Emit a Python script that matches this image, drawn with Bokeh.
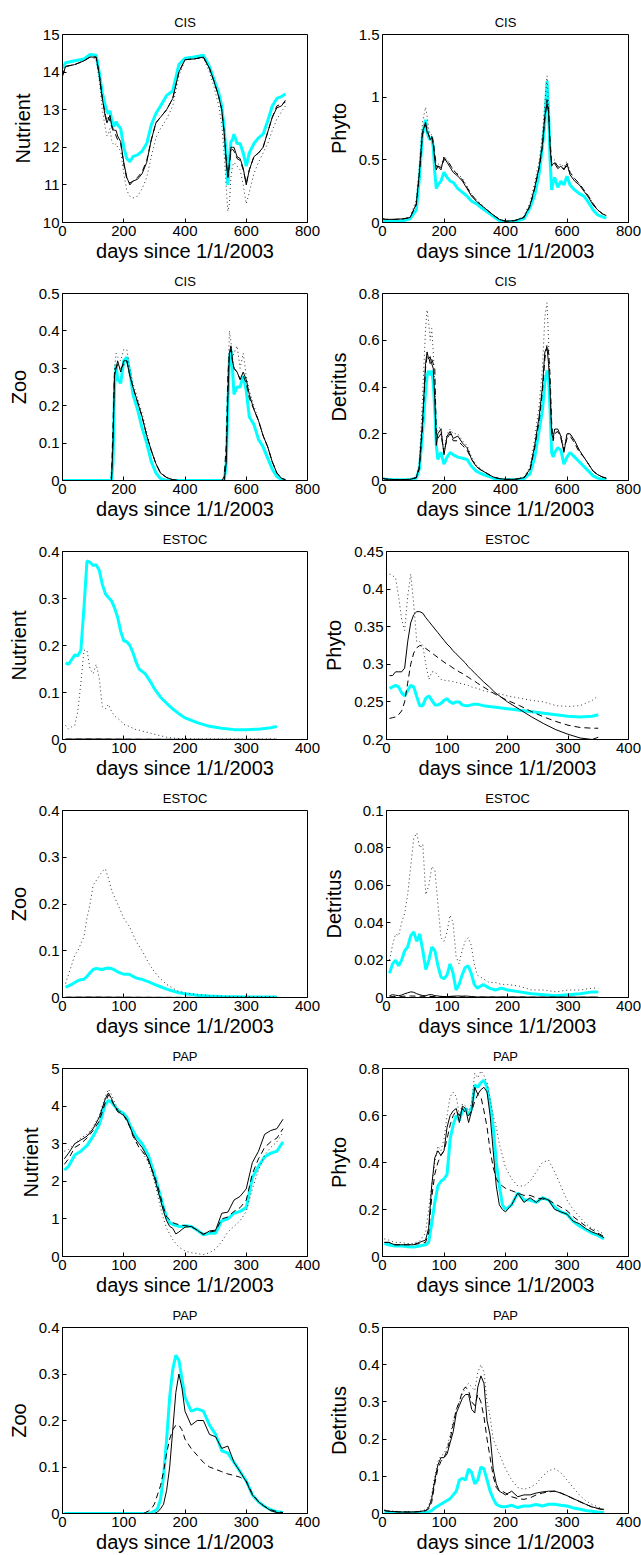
from bokeh.plotting import figure
from bokeh.layouts import column, row
from bokeh.models import FixedTicker, Range1d
from bokeh.embed import file_html
from bokeh.resources import INLINE

FONT = "Liberation Sans"

# ---------------- tick values ----------------
cis_xticks = [0, 200, 400, 600, 800]
site_xticks = [0, 100, 200, 300, 400]
cis_nut_yticks = [10, 11, 12, 13, 14, 15]
cis_phy_yticks = [0, 0.5, 1, 1.5]
cis_zoo_yticks = [0, 0.1, 0.2, 0.3, 0.4, 0.5]
cis_det_yticks = [0, 0.2, 0.4, 0.6, 0.8]
est_nut_yticks = [0, 0.1, 0.2, 0.3, 0.4]
est_phy_yticks = [0.2, 0.25, 0.3, 0.35, 0.4, 0.45]
est_zoo_yticks = [0, 0.1, 0.2, 0.3, 0.4]
est_det_yticks = [0, 0.02, 0.04, 0.06, 0.08, 0.1]
pap_nut_yticks = [0, 1, 2, 3, 4, 5]
pap_phy_yticks = [0, 0.2, 0.4, 0.6, 0.8]
pap_zoo_yticks = [0, 0.1, 0.2, 0.3, 0.4]
pap_det_yticks = [0, 0.1, 0.2, 0.3, 0.4, 0.5]

# ---------------- CIS (days since 1/1/2003) ----------------
cis_days = [0, 10, 40, 70, 90, 110, 120, 130, 140, 145, 150, 155, 160, 165, 170, 175, 180, 190, 200, 210,
            220, 230, 245, 260, 275, 290, 305, 320, 340, 360, 380, 400, 430, 460, 480, 495, 510, 520, 528, 535,
            540, 545, 550, 555, 560, 570, 580, 590, 600, 610, 625, 640, 655, 670, 685, 700, 715, 728]

cis_nut_cyan = [14.1, 14.25, 14.3, 14.35, 14.47, 14.45, 14.0, 13.45, 13.1, 12.95, 12.9, 12.97, 12.75, 12.55, 12.6,
                12.68, 12.6, 12.5, 12.0, 11.7, 11.62, 11.75, 11.8, 11.9, 12.1, 12.6, 12.9, 13.1, 13.38, 13.5,
                14.2, 14.37, 14.4, 14.45, 14.15, 13.8, 13.45, 13.1, 12.5, 11.75, 11.0, 11.7, 12.15, 12.2, 12.35,
                12.1, 12.1, 11.85, 11.5, 11.85, 12.1, 12.25, 12.35, 12.7, 13.1, 13.3, 13.35, 13.42]
cis_nut_solid = [13.9, 14.15, 14.2, 14.3, 14.4, 14.4, 13.95, 13.3, 12.8, 12.65, 12.75, 12.85, 12.6, 12.5, 12.45,
                 12.45, 12.3, 12.15, 11.6, 11.2, 11.0, 11.1, 11.15, 11.3, 11.6, 12.2, 12.65, 12.8, 13.0, 13.3,
                 14.0, 14.33, 14.35, 14.4, 14.1, 13.75, 13.35, 13.0, 12.4, 11.6, 11.2, 11.6, 12.0, 12.0, 12.0,
                 11.75, 11.7, 11.45, 11.0, 11.4, 11.75, 11.85, 12.0, 12.4, 12.8, 13.05, 13.1, 13.25]
cis_nut_dashed = [13.9, 14.15, 14.2, 14.3, 14.4, 14.4, 13.95, 13.3, 12.85, 12.7, 12.8, 12.7, 12.55, 12.45, 12.4,
                  12.3, 12.2, 12.1, 11.55, 11.15, 11.05, 11.1, 11.2, 11.35, 11.65, 12.2, 12.65, 12.8, 13.0, 13.3,
                  14.0, 14.33, 14.35, 14.4, 14.1, 13.75, 13.35, 13.0, 12.4, 11.6, 11.2, 11.5, 11.9, 11.95, 11.9,
                  11.7, 11.65, 11.4, 11.05, 11.4, 11.75, 11.85, 12.0, 12.4, 12.8, 13.1, 13.15, 13.2]
cis_nut_dotted = [13.9, 14.15, 14.2, 14.3, 14.4, 14.35, 13.8, 13.0, 12.5, 12.3, 12.35, 12.5, 12.2, 12.1, 12.05,
                  12.1, 12.0, 11.9, 11.3, 10.85, 10.7, 10.65, 10.7, 10.9, 11.2, 11.75, 12.25, 12.5, 12.75, 13.1,
                  13.9, 14.33, 14.35, 14.38, 14.0, 13.6, 13.1, 12.6, 11.8, 10.9, 10.3, 10.5, 11.2, 11.5, 11.6,
                  11.5, 11.4, 11.0, 10.5, 10.8, 11.3, 11.6, 11.85, 12.1, 12.45, 12.75, 12.95, 13.1]

cis_phy_cyan = [0.01, 0.01, 0.01, 0.015, 0.03, 0.1, 0.35, 0.7, 0.82, 0.72, 0.68, 0.66, 0.68, 0.6, 0.4,
                0.27, 0.3, 0.33, 0.4, 0.36, 0.33, 0.32, 0.27, 0.24, 0.21, 0.17, 0.15, 0.12, 0.085, 0.05,
                0.015, 0.005, 0.01, 0.03, 0.12, 0.22, 0.4, 0.6, 0.8, 1.13, 0.9, 0.5, 0.26, 0.32, 0.36,
                0.28, 0.33, 0.3, 0.37, 0.3, 0.26, 0.23, 0.21, 0.16, 0.1, 0.06, 0.045, 0.035]
cis_phy_solid = [0.03, 0.025, 0.025, 0.03, 0.04, 0.15, 0.4, 0.72, 0.8, 0.72, 0.7, 0.66, 0.68, 0.62, 0.5,
                 0.42, 0.45, 0.42, 0.52, 0.48, 0.44, 0.4, 0.37, 0.33, 0.27, 0.21, 0.17, 0.14, 0.1, 0.06,
                 0.025, 0.01, 0.015, 0.04, 0.14, 0.28, 0.45, 0.62, 0.85, 0.95, 0.88, 0.6, 0.45, 0.47, 0.47,
                 0.43, 0.45, 0.42, 0.47, 0.38, 0.33, 0.3, 0.25, 0.2, 0.14, 0.1, 0.07, 0.055]
cis_phy_dashed = [0.03, 0.025, 0.025, 0.03, 0.04, 0.14, 0.38, 0.7, 0.78, 0.75, 0.7, 0.67, 0.69, 0.65, 0.55,
                  0.45, 0.45, 0.44, 0.5, 0.5, 0.46, 0.42, 0.38, 0.34, 0.28, 0.22, 0.18, 0.14, 0.1, 0.06,
                  0.025, 0.01, 0.015, 0.04, 0.13, 0.27, 0.44, 0.6, 0.82, 0.98, 0.9, 0.65, 0.48, 0.47, 0.48,
                  0.45, 0.44, 0.43, 0.45, 0.4, 0.35, 0.31, 0.26, 0.21, 0.15, 0.1, 0.07, 0.055]
cis_phy_dotted = [0.03, 0.025, 0.025, 0.03, 0.045, 0.18, 0.45, 0.8, 0.92, 0.85, 0.75, 0.7, 0.7, 0.65, 0.52,
                  0.45, 0.47, 0.45, 0.53, 0.5, 0.46, 0.42, 0.39, 0.35, 0.29, 0.22, 0.18, 0.15, 0.1, 0.06,
                  0.025, 0.01, 0.015, 0.05, 0.16, 0.32, 0.5, 0.7, 0.95, 1.17, 0.95, 0.62, 0.47, 0.49, 0.5,
                  0.44, 0.47, 0.44, 0.49, 0.4, 0.35, 0.31, 0.26, 0.21, 0.15, 0.1, 0.07, 0.055]

cis_zoo_cyan = [0, 0, 0, 0, 0, 0, 0, 0, 0, 0, 0, 0, 0, 0.05, 0.25,
                0.31, 0.27, 0.26, 0.32, 0.33, 0.29, 0.23, 0.19, 0.14, 0.1, 0.05, 0.02, 0.005, 0.0, 0.0,
                0, 0, 0, 0, 0, 0, 0, 0, 0, 0.05, 0.2, 0.33, 0.35, 0.3, 0.23,
                0.25, 0.25, 0.28, 0.24, 0.17, 0.15, 0.11, 0.09, 0.06, 0.03, 0.01, 0.003, 0.0]
cis_zoo_solid = [0, 0, 0, 0, 0, 0, 0, 0, 0, 0, 0, 0, 0, 0.1, 0.28,
                 0.3, 0.32, 0.29, 0.32, 0.32, 0.28, 0.25, 0.21, 0.17, 0.12, 0.08, 0.045, 0.02, 0.008, 0.002,
                 0, 0, 0, 0, 0, 0, 0, 0, 0, 0.05, 0.22, 0.34, 0.36, 0.32, 0.3,
                 0.29, 0.27, 0.29, 0.27, 0.23, 0.19, 0.16, 0.12, 0.09, 0.05, 0.02, 0.006, 0.002]
cis_zoo_dashed = [0, 0, 0, 0, 0, 0, 0, 0, 0, 0, 0, 0, 0.01, 0.15, 0.3,
                  0.3, 0.31, 0.3, 0.31, 0.32, 0.28, 0.25, 0.21, 0.17, 0.12, 0.08, 0.045, 0.02, 0.008, 0.002,
                  0, 0, 0, 0, 0, 0, 0, 0, 0.01, 0.1, 0.28, 0.34, 0.35, 0.32, 0.3,
                  0.29, 0.27, 0.28, 0.26, 0.22, 0.19, 0.16, 0.12, 0.09, 0.05, 0.02, 0.006, 0.002]
cis_zoo_dotted = [0, 0, 0, 0, 0, 0, 0, 0, 0, 0, 0, 0, 0, 0.1, 0.3,
                  0.34, 0.33, 0.32, 0.35, 0.35, 0.3, 0.26, 0.22, 0.18, 0.13, 0.08, 0.045, 0.02, 0.008, 0.002,
                  0, 0, 0, 0, 0, 0, 0, 0, 0, 0.06, 0.25, 0.4, 0.37, 0.33, 0.34,
                  0.36, 0.3, 0.34, 0.28, 0.24, 0.2, 0.16, 0.12, 0.09, 0.05, 0.02, 0.006, 0.002]

cis_det_cyan = [0.008, 0.005, 0.003, 0.003, 0.004, 0.01, 0.05, 0.2, 0.38, 0.45, 0.47, 0.45, 0.47, 0.42, 0.3,
                0.15, 0.09, 0.12, 0.07, 0.1, 0.12, 0.11, 0.1, 0.095, 0.09, 0.06, 0.04, 0.03, 0.02, 0.01,
                0.005, 0.003, 0.003, 0.008, 0.03, 0.1, 0.22, 0.3, 0.42, 0.47, 0.44, 0.3, 0.12, 0.1, 0.12,
                0.14, 0.13, 0.07, 0.1, 0.12, 0.1, 0.08, 0.06, 0.04, 0.02, 0.01, 0.005, 0.004]
cis_det_solid = [0.01, 0.006, 0.004, 0.004, 0.005, 0.012, 0.06, 0.25, 0.5, 0.55, 0.52, 0.53, 0.5, 0.48, 0.35,
                 0.15, 0.2, 0.22, 0.11, 0.19, 0.21, 0.18, 0.19, 0.16, 0.14, 0.09, 0.06, 0.045, 0.03, 0.015,
                 0.008, 0.005, 0.005, 0.012, 0.05, 0.15, 0.28, 0.4, 0.55, 0.57, 0.5, 0.38, 0.2, 0.18, 0.22,
                 0.22, 0.19, 0.12, 0.2, 0.2, 0.17, 0.13, 0.1, 0.07, 0.04, 0.025, 0.015, 0.01]
cis_det_dashed = [0.01, 0.006, 0.004, 0.004, 0.005, 0.012, 0.05, 0.22, 0.48, 0.53, 0.53, 0.5, 0.52, 0.5, 0.48,
                  0.2, 0.18, 0.2, 0.12, 0.18, 0.2, 0.17, 0.17, 0.15, 0.13, 0.09, 0.06, 0.045, 0.03, 0.015,
                  0.008, 0.005, 0.005, 0.01, 0.045, 0.14, 0.26, 0.38, 0.52, 0.58, 0.55, 0.45, 0.25, 0.17, 0.2,
                  0.21, 0.18, 0.13, 0.18, 0.19, 0.16, 0.12, 0.1, 0.07, 0.04, 0.025, 0.015, 0.01]
cis_det_dotted = [0.01, 0.006, 0.004, 0.004, 0.005, 0.015, 0.08, 0.35, 0.65, 0.73, 0.68, 0.6, 0.65, 0.55, 0.4,
                  0.2, 0.22, 0.23, 0.12, 0.2, 0.22, 0.2, 0.2, 0.17, 0.15, 0.1, 0.065, 0.05, 0.03, 0.015,
                  0.008, 0.005, 0.005, 0.015, 0.06, 0.18, 0.33, 0.48, 0.7, 0.76, 0.6, 0.4, 0.22, 0.2, 0.22,
                  0.2, 0.2, 0.13, 0.2, 0.2, 0.17, 0.13, 0.1, 0.07, 0.04, 0.025, 0.015, 0.01]

# ---------------- ESTOC ----------------
est_days = [5, 10, 15, 20, 25, 30, 35, 40, 45, 50, 55, 60, 65, 70, 75, 80, 85, 90, 95, 100,
            105, 110, 115, 120, 125, 130, 135, 140, 145, 150, 160, 170, 180, 190, 200, 220, 240, 260, 280, 300,
            320, 340, 350]

est_nut_cyan = [0.163, 0.16, 0.17, 0.18, 0.178, 0.19, 0.28, 0.38, 0.377, 0.37, 0.372, 0.36, 0.33, 0.31, 0.302,
                0.295, 0.28, 0.26, 0.23, 0.21, 0.208, 0.2, 0.185, 0.165, 0.15, 0.145, 0.14, 0.13, 0.12, 0.108,
                0.09, 0.077, 0.065, 0.055, 0.046, 0.036, 0.028, 0.024, 0.021, 0.021, 0.022, 0.025, 0.028]
est_nut_dotted = [0.03, 0.022, 0.027, 0.03, 0.06, 0.12, 0.19, 0.19, 0.15, 0.14, 0.16, 0.13, 0.07, 0.065, 0.075,
                  0.06, 0.05, 0.045, 0.04, 0.032, 0.03, 0.027, 0.024, 0.021, 0.02, 0.018, 0.016, 0.015, 0.013,
                  0.011, 0.008, 0.005, 0.003, 0.002, 0.002, 0.001, 0.001, 0.001, 0.001, 0.001, 0.001, 0.001,
                  0.001]
est_nut_black_days = [5, 50, 100, 200, 350]
est_nut_solid = [0.0008, 0.001, 0.0006, 0.0003, 0.0002]
est_nut_dashed = [0.0006, 0.0008, 0.0005, 0.0002, 0.0002]

est_phy_cyan = [0.268, 0.27, 0.272, 0.27, 0.262, 0.258, 0.265, 0.272, 0.27, 0.257, 0.245, 0.245, 0.255, 0.258,
                0.252, 0.246, 0.246, 0.248, 0.252, 0.254, 0.25, 0.248, 0.25, 0.25, 0.246, 0.245, 0.245, 0.246,
                0.247, 0.247, 0.245, 0.244, 0.243, 0.242, 0.241, 0.239, 0.237, 0.235, 0.233, 0.231, 0.23,
                0.231, 0.233]
est_phy_solid = [0.285, 0.285, 0.29, 0.29, 0.29, 0.295, 0.33, 0.355, 0.366, 0.37, 0.37, 0.368, 0.362, 0.357,
                 0.352, 0.347, 0.342, 0.337, 0.332, 0.327, 0.323, 0.318, 0.314, 0.31, 0.306, 0.302, 0.297,
                 0.293, 0.289, 0.285, 0.277, 0.27, 0.262, 0.256, 0.25, 0.24, 0.23, 0.221, 0.213, 0.207, 0.202,
                 0.2, 0.203]
est_phy_dashed = [0.228, 0.229, 0.23, 0.233, 0.238, 0.25, 0.275, 0.3, 0.315, 0.322, 0.325, 0.324, 0.321, 0.318,
                  0.315, 0.312, 0.309, 0.306, 0.303, 0.3, 0.298, 0.295, 0.293, 0.29, 0.288, 0.285, 0.283, 0.28,
                  0.278, 0.275, 0.27, 0.265, 0.26, 0.256, 0.252, 0.245, 0.237, 0.23, 0.224, 0.219, 0.216,
                  0.215, 0.215]
est_phy_dotted = [0.42, 0.418, 0.415, 0.39, 0.36, 0.345, 0.39, 0.42, 0.38, 0.33, 0.33, 0.325, 0.3, 0.28, 0.29,
                  0.29, 0.285, 0.28, 0.279, 0.278, 0.278, 0.277, 0.276, 0.275, 0.274, 0.273, 0.272, 0.27, 0.269,
                  0.268, 0.265, 0.263, 0.262, 0.26, 0.258, 0.255, 0.252, 0.25, 0.245, 0.244, 0.245, 0.252,
                  0.258]

est_zoo_cyan = [0.022, 0.025, 0.028, 0.032, 0.036, 0.038, 0.039, 0.045, 0.053, 0.06, 0.062, 0.061, 0.06, 0.062,
                0.063, 0.062, 0.059, 0.055, 0.052, 0.05, 0.05, 0.049, 0.045, 0.042, 0.04, 0.039, 0.036, 0.034,
                0.031, 0.028, 0.023, 0.018, 0.014, 0.01, 0.008, 0.005, 0.003, 0.002, 0.0015, 0.001, 0.001,
                0.001, 0.001]
est_zoo_dotted = [0.03, 0.05, 0.07, 0.09, 0.1, 0.115, 0.13, 0.17, 0.2, 0.24, 0.25, 0.26, 0.27, 0.275, 0.255,
                  0.23, 0.215, 0.2, 0.185, 0.17, 0.16, 0.15, 0.135, 0.12, 0.11, 0.1, 0.088, 0.075, 0.065, 0.055,
                  0.04, 0.028, 0.02, 0.013, 0.01, 0.006, 0.004, 0.003, 0.002, 0.002, 0.002, 0.002, 0.002]
est_zoo_black_days = [5, 50, 100, 200, 350]
est_zoo_solid = [0.0005, 0.0008, 0.0005, 0.0002, 0.0001]
est_zoo_dashed = [0.0004, 0.0006, 0.0004, 0.0002, 0.0001]

est_det_cyan = [0.013, 0.018, 0.02, 0.017, 0.02, 0.025, 0.027, 0.033, 0.035, 0.03, 0.034, 0.025, 0.015, 0.02,
                0.027, 0.025, 0.017, 0.011, 0.01, 0.012, 0.018, 0.013, 0.004, 0.007, 0.012, 0.016, 0.017,
                0.013, 0.007, 0.005, 0.007, 0.005, 0.004, 0.005, 0.004, 0.003, 0.002, 0.0015, 0.001, 0.0015,
                0.002, 0.003, 0.003]
est_det_dotted = [0.02, 0.028, 0.034, 0.033, 0.04, 0.045, 0.055, 0.07, 0.085, 0.088, 0.08, 0.082, 0.055, 0.06,
                  0.07, 0.068, 0.05, 0.032, 0.03, 0.035, 0.044, 0.04, 0.022, 0.018, 0.025, 0.03, 0.032, 0.028,
                  0.018, 0.012, 0.01, 0.008, 0.008, 0.007, 0.007, 0.006, 0.004, 0.004, 0.003, 0.004, 0.004,
                  0.005, 0.005]
est_det_solid = [0.001, 0.0015, 0.0012, 0.001, 0.0013, 0.002, 0.0025, 0.003, 0.0028, 0.002, 0.0015, 0.001,
                 0.001, 0.0015, 0.0015, 0.001, 0.0008, 0.0006, 0.0005, 0.0005, 0.0006, 0.0007, 0.0008, 0.0008,
                 0.0007, 0.0008, 0.0007, 0.0005, 0.0004, 0.0003, 0.0003, 0.0003, 0.0003, 0.0003, 0.0003,
                 0.0003, 0.0002, 0.0002, 0.0002, 0.0002, 0.0002, 0.0002, 0.0002]
est_det_black_days = [5, 40, 80, 150, 350]
est_det_dashed = [0.0004, 0.0008, 0.0005, 0.0002, 0.0001]

# ---------------- PAP ----------------
pap_days = [3, 10, 20, 30, 40, 50, 60, 70, 75, 80, 85, 90, 95, 100, 105, 110, 115, 120, 125, 130,
            135, 140, 145, 150, 155, 160, 165, 170, 175, 180, 185, 190, 195, 200, 210, 220, 230, 240, 250, 260,
            270, 280, 290, 300, 310, 320, 330, 340, 350, 360]

pap_nut_cyan = [2.3, 2.4, 2.7, 2.8, 2.95, 3.2, 3.5, 4.05, 4.15, 4.1, 4.0, 3.9, 3.85, 3.8, 3.7, 3.5, 3.35, 3.2,
                3.1, 3.0, 2.85, 2.7, 2.45, 2.2, 1.9, 1.6, 1.3, 1.05, 0.9, 0.85, 0.83, 0.8, 0.8, 0.82, 0.8, 0.7,
                0.58, 0.62, 0.62, 0.95, 1.0, 1.15, 1.2, 1.3, 2.1, 2.4, 2.65, 2.75, 2.8, 3.05]
pap_nut_solid = [2.6, 2.75, 3.0, 3.1, 3.2, 3.4, 3.7, 4.2, 4.35, 4.2, 4.0, 3.9, 3.8, 3.75, 3.65, 3.45, 3.25, 3.1,
                 3.0, 2.9, 2.75, 2.6, 2.35, 2.1, 1.8, 1.5, 1.2, 0.95, 0.8, 0.75, 0.6, 0.65, 0.72, 0.78, 0.8, 0.7,
                 0.58, 0.68, 0.7, 1.15, 1.18, 1.5, 1.6, 1.8, 2.5, 2.8, 3.25, 3.35, 3.4, 3.65]
pap_nut_dashed = [2.45, 2.6, 2.9, 3.0, 3.15, 3.35, 3.6, 4.1, 4.3, 4.15, 4.0, 3.85, 3.8, 3.75, 3.6, 3.45, 3.2,
                  3.05, 2.9, 2.8, 2.7, 2.55, 2.35, 2.15, 1.9, 1.6, 1.3, 1.05, 0.98, 0.9, 0.87, 0.85, 0.83, 0.82,
                  0.8, 0.7, 0.6, 0.65, 0.68, 1.0, 1.05, 1.2, 1.3, 1.5, 2.2, 2.6, 2.9, 3.05, 3.15, 3.4]
pap_nut_dotted = [2.8, 2.85, 3.0, 3.15, 3.25, 3.45, 3.75, 4.25, 4.45, 4.3, 4.1, 3.95, 3.85, 3.8, 3.65, 3.45,
                  3.25, 3.05, 2.9, 2.8, 2.65, 2.5, 2.25, 2.0, 1.65, 1.3, 1.0, 0.75, 0.6, 0.45, 0.35, 0.25, 0.2,
                  0.15, 0.1, 0.08, 0.05, 0.1, 0.2, 0.4, 0.65, 0.8, 0.95, 1.2, 1.8, 2.3, 2.7, 2.9, 3.05, 3.3]

pap_phy_cyan = [0.055, 0.05, 0.045, 0.045, 0.042, 0.04, 0.045, 0.05, 0.06, 0.14, 0.23, 0.3, 0.32, 0.33, 0.35,
                0.5, 0.56, 0.6, 0.58, 0.62, 0.63, 0.6, 0.63, 0.73, 0.72, 0.74, 0.75, 0.72, 0.65, 0.55, 0.4, 0.3,
                0.22, 0.2, 0.22, 0.27, 0.24, 0.24, 0.23, 0.25, 0.24, 0.21, 0.19, 0.18, 0.15, 0.13, 0.115, 0.1,
                0.09, 0.075]
pap_phy_solid = [0.06, 0.06, 0.05, 0.05, 0.05, 0.05, 0.06, 0.07, 0.12, 0.3, 0.42, 0.45, 0.43, 0.45, 0.55, 0.6,
                 0.62, 0.63, 0.57, 0.64, 0.63, 0.57, 0.62, 0.72, 0.69, 0.71, 0.72, 0.7, 0.6, 0.45, 0.3, 0.22,
                 0.2, 0.19, 0.22, 0.27, 0.23, 0.25, 0.23, 0.25, 0.24, 0.2, 0.19, 0.18, 0.15, 0.14, 0.12, 0.105,
                 0.095, 0.08]
pap_phy_dashed = [0.06, 0.06, 0.05, 0.05, 0.05, 0.05, 0.055, 0.06, 0.1, 0.25, 0.35, 0.4, 0.43, 0.45, 0.5, 0.56,
                  0.6, 0.62, 0.6, 0.63, 0.61, 0.6, 0.62, 0.66, 0.69, 0.68, 0.62, 0.55, 0.45, 0.38, 0.33, 0.31,
                  0.3, 0.29, 0.28, 0.27, 0.26, 0.26, 0.25, 0.245, 0.24, 0.225, 0.21, 0.195, 0.17, 0.15, 0.13,
                  0.115, 0.1, 0.085]
pap_phy_dotted = [0.075, 0.07, 0.06, 0.06, 0.055, 0.055, 0.065, 0.1, 0.2, 0.3, 0.4, 0.47, 0.45, 0.5, 0.6, 0.68,
                  0.7, 0.68, 0.6, 0.65, 0.64, 0.62, 0.65, 0.78, 0.76, 0.79, 0.77, 0.74, 0.67, 0.6, 0.55, 0.48,
                  0.43, 0.38, 0.33, 0.3, 0.3, 0.32, 0.36, 0.4, 0.41, 0.36, 0.3, 0.24, 0.2, 0.17, 0.14, 0.12,
                  0.11, 0.095]

pap_zoo_cyan = [0, 0, 0, 0, 0, 0, 0, 0, 0, 0, 0, 0, 0, 0, 0, 0, 0, 0, 0, 0, 0, 0,
                0.002, 0.005, 0.01, 0.03, 0.08, 0.16, 0.25, 0.31, 0.34, 0.33, 0.29, 0.25, 0.22, 0.225, 0.22,
                0.19, 0.17, 0.135, 0.13, 0.11, 0.09, 0.07, 0.04, 0.025, 0.015, 0.008, 0.004, 0.002]
pap_zoo_solid = [0, 0, 0, 0, 0, 0, 0, 0, 0, 0, 0, 0, 0, 0, 0, 0, 0, 0, 0, 0, 0, 0, 0, 0,
                 0.003, 0.01, 0.02, 0.05, 0.1, 0.18, 0.26, 0.3, 0.27, 0.22, 0.19, 0.2, 0.2, 0.17, 0.165, 0.14,
                 0.145, 0.11, 0.09, 0.068, 0.04, 0.025, 0.015, 0.006, 0.002, 0.001]
pap_zoo_dashed = [0, 0, 0, 0, 0, 0, 0, 0, 0, 0, 0, 0, 0, 0, 0, 0, 0, 0, 0, 0,
                  0.002, 0.005, 0.01, 0.02, 0.04, 0.06, 0.09, 0.13, 0.16, 0.18, 0.19, 0.19, 0.18, 0.16, 0.14,
                  0.125, 0.11, 0.1, 0.095, 0.09, 0.085, 0.082, 0.078, 0.07, 0.042, 0.026, 0.015, 0.008, 0.004,
                  0.002]

pap_det_cyan = [0.003, 0.002, 0.002, 0.002, 0.002, 0.002, 0.002, 0.002, 0.004, 0.008, 0.015, 0.02, 0.025, 0.03,
                0.035, 0.04, 0.05, 0.06, 0.09, 0.095, 0.09, 0.12, 0.11, 0.08, 0.09, 0.125, 0.12, 0.09, 0.06,
                0.04, 0.025, 0.02, 0.018, 0.018, 0.022, 0.016, 0.02, 0.02, 0.024, 0.02, 0.025, 0.025, 0.022,
                0.02, 0.015, 0.012, 0.008, 0.006, 0.004, 0.003]
pap_det_solid = [0.008, 0.006, 0.005, 0.004, 0.004, 0.004, 0.005, 0.008, 0.015, 0.04, 0.09, 0.13, 0.15, 0.15,
                 0.16, 0.19, 0.22, 0.27, 0.29, 0.31, 0.32, 0.32, 0.28, 0.27, 0.34, 0.37, 0.35, 0.25, 0.21, 0.12,
                 0.08, 0.06, 0.055, 0.05, 0.06, 0.045, 0.05, 0.05, 0.055, 0.058, 0.06, 0.06, 0.055, 0.048,
                 0.04, 0.033, 0.025, 0.018, 0.014, 0.01]
pap_det_dashed = [0.008, 0.006, 0.005, 0.004, 0.004, 0.004, 0.005, 0.007, 0.012, 0.03, 0.08, 0.12, 0.14, 0.15,
                  0.17, 0.2, 0.24, 0.28, 0.3, 0.33, 0.34, 0.33, 0.3, 0.29, 0.32, 0.3, 0.26, 0.2, 0.15, 0.1, 0.07,
                  0.06, 0.06, 0.055, 0.045, 0.04, 0.038, 0.042, 0.05, 0.055, 0.058, 0.06, 0.055, 0.048, 0.04,
                  0.032, 0.025, 0.018, 0.013, 0.01]
pap_det_dotted = [0.01, 0.008, 0.006, 0.005, 0.005, 0.005, 0.006, 0.01, 0.02, 0.05, 0.1, 0.14, 0.155, 0.16,
                  0.18, 0.21, 0.25, 0.28, 0.3, 0.32, 0.34, 0.35, 0.34, 0.33, 0.38, 0.4, 0.38, 0.3, 0.26, 0.2,
                  0.18, 0.16, 0.14, 0.12, 0.09, 0.07, 0.065, 0.07, 0.08, 0.1, 0.115, 0.12, 0.11, 0.09, 0.07,
                  0.05, 0.035, 0.025, 0.018, 0.012]

# ---------------- styling / layout ----------------
STYLES = {
    "cyan": dict(line_color="#00FFFF", line_width=3),
    "dotted": dict(line_color="#333333", line_width=1, line_dash="1 3"),
    "dashed": dict(line_color="black", line_width=1, line_dash="6 4"),
    "solid": dict(line_color="black", line_width=1),
}

ROW_H = [264, 258, 259, 258, 259, 257]
ROW_TOP = [34, 29, 29, 29, 29, 29]
FRAME_H = 188
COL_W = [320, 321]
LEFT_B = 62
RIGHT_B = [13, 13]


def style_axis(ax, ticks, label):
    ax.ticker = FixedTicker(ticks=ticks)
    ax.major_tick_in = 4
    ax.major_tick_out = 0
    ax.minor_tick_line_color = None
    ax.axis_line_color = "black"
    ax.major_tick_line_color = "black"
    ax.major_label_overrides = {t: f"{t:g}" for t in ticks}
    ax.major_label_text_font = FONT
    ax.major_label_text_font_size = "15px"
    ax.major_label_text_color = "black"
    ax.major_label_standoff = 3
    ax.axis_label = label
    ax.axis_label_text_font = FONT
    ax.axis_label_text_font_size = "20px"
    ax.axis_label_text_font_style = "normal"
    ax.axis_label_text_color = "black"
    ax.axis_label_standoff = 6


def panel(r, c, title, ylabel, xr, xticks, yr, yticks, series):
    H = ROW_H[r]
    top = ROW_TOP[r]
    bottom = H - top - FRAME_H
    p = figure(width=COL_W[c], height=H, output_backend="svg", toolbar_location=None,
               x_range=Range1d(*xr), y_range=Range1d(*yr),
               min_border_left=LEFT_B, min_border_right=RIGHT_B[c],
               min_border_top=top, min_border_bottom=bottom,
               title=title)
    p.title.text_font = FONT
    p.title.text_font_size = "13px"
    p.title.text_font_style = "normal"
    p.title.text_color = "black"
    p.title.align = "center"
    p.title.standoff = 10
    p.grid.visible = False
    p.outline_line_color = "black"
    p.outline_line_alpha = 1.0
    p.background_fill_color = "white"
    p.border_fill_color = "white"
    style_axis(p.xaxis[0], xticks, "days since 1/1/2003")
    p.xaxis[0].axis_label_standoff = 1
    style_axis(p.yaxis[0], yticks, ylabel)
    for kind, xs, ys in series:
        p.line(xs, ys, **STYLES[kind])
    return p


panels = [
    [panel(0, 0, "CIS", "Nutrient", (0, 800), cis_xticks, (10, 15), cis_nut_yticks,
           [("cyan", cis_days, cis_nut_cyan), ("dotted", cis_days, cis_nut_dotted),
            ("dashed", cis_days, cis_nut_dashed), ("solid", cis_days, cis_nut_solid)]),
     panel(0, 1, "CIS", "Phyto", (0, 800), cis_xticks, (0, 1.5), cis_phy_yticks,
           [("cyan", cis_days, cis_phy_cyan), ("dotted", cis_days, cis_phy_dotted),
            ("dashed", cis_days, cis_phy_dashed), ("solid", cis_days, cis_phy_solid)])],
    [panel(1, 0, "CIS", "Zoo", (0, 800), cis_xticks, (0, 0.5), cis_zoo_yticks,
           [("cyan", cis_days, cis_zoo_cyan), ("dotted", cis_days, cis_zoo_dotted),
            ("dashed", cis_days, cis_zoo_dashed), ("solid", cis_days, cis_zoo_solid)]),
     panel(1, 1, "CIS", "Detritus", (0, 800), cis_xticks, (0, 0.8), cis_det_yticks,
           [("cyan", cis_days, cis_det_cyan), ("dotted", cis_days, cis_det_dotted),
            ("dashed", cis_days, cis_det_dashed), ("solid", cis_days, cis_det_solid)])],
    [panel(2, 0, "ESTOC", "Nutrient", (0, 400), site_xticks, (0, 0.4), est_nut_yticks,
           [("cyan", est_days, est_nut_cyan), ("dotted", est_days, est_nut_dotted),
            ("dashed", est_nut_black_days, est_nut_dashed), ("solid", est_nut_black_days, est_nut_solid)]),
     panel(2, 1, "ESTOC", "Phyto", (0, 400), site_xticks, (0.2, 0.45), est_phy_yticks,
           [("cyan", est_days, est_phy_cyan), ("dotted", est_days, est_phy_dotted),
            ("dashed", est_days, est_phy_dashed), ("solid", est_days, est_phy_solid)])],
    [panel(3, 0, "ESTOC", "Zoo", (0, 400), site_xticks, (0, 0.4), est_zoo_yticks,
           [("cyan", est_days, est_zoo_cyan), ("dotted", est_days, est_zoo_dotted),
            ("dashed", est_zoo_black_days, est_zoo_dashed), ("solid", est_zoo_black_days, est_zoo_solid)]),
     panel(3, 1, "ESTOC", "Detritus", (0, 400), site_xticks, (0, 0.1), est_det_yticks,
           [("cyan", est_days, est_det_cyan), ("dotted", est_days, est_det_dotted),
            ("dashed", est_det_black_days, est_det_dashed), ("solid", est_days, est_det_solid)])],
    [panel(4, 0, "PAP", "Nutrient", (0, 400), site_xticks, (0, 5), pap_nut_yticks,
           [("cyan", pap_days, pap_nut_cyan), ("dotted", pap_days, pap_nut_dotted),
            ("dashed", pap_days, pap_nut_dashed), ("solid", pap_days, pap_nut_solid)]),
     panel(4, 1, "PAP", "Phyto", (0, 400), site_xticks, (0, 0.8), pap_phy_yticks,
           [("cyan", pap_days, pap_phy_cyan), ("dotted", pap_days, pap_phy_dotted),
            ("dashed", pap_days, pap_phy_dashed), ("solid", pap_days, pap_phy_solid)])],
    [panel(5, 0, "PAP", "Zoo", (0, 400), site_xticks, (0, 0.4), pap_zoo_yticks,
           [("cyan", pap_days, pap_zoo_cyan),
            ("dashed", pap_days, pap_zoo_dashed), ("solid", pap_days, pap_zoo_solid)]),
     panel(5, 1, "PAP", "Detritus", (0, 400), site_xticks, (0, 0.5), pap_det_yticks,
           [("cyan", pap_days, pap_det_cyan), ("dotted", pap_days, pap_det_dotted),
            ("dashed", pap_days, pap_det_dashed), ("solid", pap_days, pap_det_solid)])],
]

layout = column(*[row(*pr) for pr in panels])

with open("out.html", "w") as f:
    f.write(file_html(layout, INLINE))
